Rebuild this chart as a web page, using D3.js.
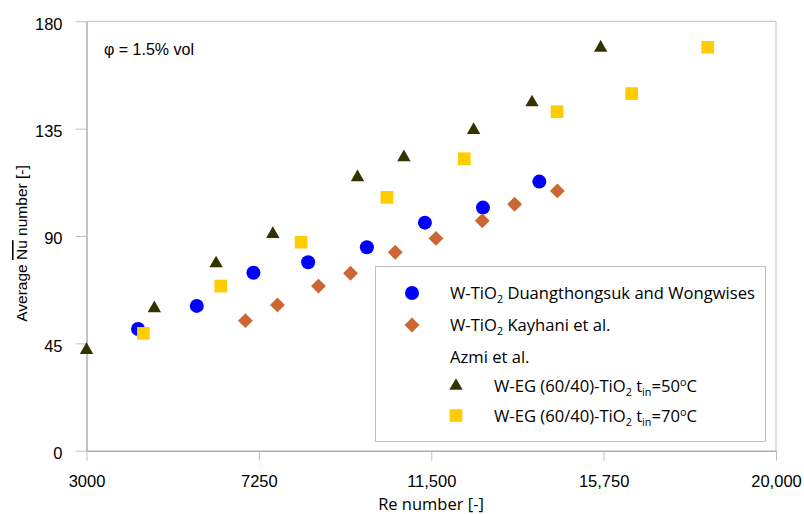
<!DOCTYPE html>
<html><head><meta charset="utf-8">
<script src="https://cdn.jsdelivr.net/npm/d3@7"></script>
<style>
body{margin:0;background:#fff;}
svg{display:block;}
</style></head>
<body>
<svg id="chart" width="804" height="514"></svg>
<script>
// ---- data ----
const xTicks = [3000, 7250, 11500, 15750, 20000];
const yTicks = [0, 45, 90, 135, 180];

const duangRe = [4271, 5719, 7116, 8465, 9913, 11344, 12775, 14165];
const duangNu = [51.0, 60.7, 74.6, 79.0, 85.3, 95.6, 101.9, 112.8];

const kayRe = [6918, 7708, 8719, 9509, 10612, 11616, 12758, 13555, 14609];
const kayNu = [54.5, 61.1, 69.0, 74.4, 83.2, 89.0, 96.4, 103.3, 108.9];

const azmi50Re = [3000, 4673, 6195, 7594, 9682, 10826, 12544, 13984, 15677];
const azmi50Nu = [42.2, 59.7, 78.5, 90.8, 114.6, 123.0, 134.4, 146.0, 168.9];

const azmi70Re = [4402, 6311, 8292, 10407, 12314, 14601, 16442, 18317];
const azmi70Nu = [49.2, 69.0, 87.4, 106.2, 122.4, 142.1, 149.7, 169.1];

// ---- layout ----
const svg = d3.select('#chart');
const x = d3.scaleLinear().domain([3000, 20000]).range([86.5, 776]);
const y = d3.scaleLinear().domain([0, 180]).range([450.7, 21.3]);
const axisColor = '#868686';
const frameColor = '#bfbfbf';

// frame (top and right)
svg.append('line').attr('x1', x(3000)).attr('x2', x(20000)).attr('y1', y(180)).attr('y2', y(180))
  .attr('stroke', frameColor).attr('stroke-width', 1);
svg.append('line').attr('x1', x(20000)).attr('x2', x(20000)).attr('y1', y(180)).attr('y2', y(0))
  .attr('stroke', frameColor).attr('stroke-width', 1);

const fmtX = d => d >= 10000 ? d3.format(',')(d) : String(d);

const gx = svg.append('g').attr('transform', `translate(0,${y(0)})`)
  .call(d3.axisBottom(x).tickValues(xTicks).tickFormat(fmtX).tickSize(10).tickSizeOuter(0).tickPadding(15));
const gy = svg.append('g').attr('transform', `translate(${x(3000)},0)`)
  .call(d3.axisLeft(y).tickValues(yTicks).tickSize(11).tickSizeOuter(0).tickPadding(13));
[gx, gy].forEach(g => {
  g.select('.domain').attr('stroke', axisColor);
  g.selectAll('.tick line').attr('stroke', frameColor);
  g.selectAll('.tick text').attr('font-family', 'Liberation Sans, Arial, sans-serif')
    .attr('font-size', 16.5).attr('fill', '#000');
});
gy.selectAll('.tick text').attr('dy', '0.47em');

// axis titles
svg.append('text').attr('x', 431).attr('y', 510).attr('text-anchor', 'middle')
  .attr('font-family', 'Open Sans, sans-serif').attr('font-size', 16.5).attr('fill', '#000')
  .text('Re number [-]');

const yt = svg.append('text').attr('transform', 'translate(27,243.5) rotate(-90)')
  .attr('text-anchor', 'middle')
  .attr('font-family', 'Liberation Sans, Arial, sans-serif').attr('font-size', 15.5).attr('fill', '#000');
yt.append('tspan').text('Average ');
yt.append('tspan').style('text-decoration', 'overline').text('Nu');
yt.append('tspan').text(' number [-]');

// annotation
svg.append('text').attr('x', 104).attr('y', 55)
  .attr('font-family', 'Liberation Sans, Arial, sans-serif').attr('font-size', 16).attr('fill', '#000')
  .text('φ = 1.5% vol');

// ---- markers ----
const cData = duangRe.map((r, i) => ({ r, v: duangNu[i] }));
const dData = kayRe.map((r, i) => ({ r, v: kayNu[i] }));
const tData = azmi50Re.map((r, i) => ({ r, v: azmi50Nu[i] }));
const sData = azmi70Re.map((r, i) => ({ r, v: azmi70Nu[i] }));

const colCircle = '#0000ff', colDiamond = '#cc6633', colTri = '#333300', colSq = '#ffcc00';
const symCircle = d3.symbol().type(d3.symbolCircle).size(Math.PI * 7 * 7);
const symDiamond = d3.symbol().type(d3.symbolSquare).size(10.5 * 10.5);
const symTri = d3.symbol().type(d3.symbolTriangle).size(13.4 * 13.4 * Math.sqrt(3) / 4);
const symSq = d3.symbol().type(d3.symbolSquare).size(12.7 * 12.7);

function drawSeries(data, sym, col, rot) {
  svg.append('g').selectAll('path').data(data).join('path')
    .attr('d', sym)
    .attr('transform', d => `translate(${x(d.r)},${y(d.v)}) rotate(${rot || 0})`)
    .attr('fill', col);
}
drawSeries(cData, symCircle, colCircle);
drawSeries(dData, symDiamond, colDiamond, 45);
drawSeries(tData, symTri, colTri);
drawSeries(sData, symSq, colSq);

// ---- legend ----
const lg = svg.append('g');
lg.append('rect').attr('x', 375.5).attr('y', 266.5).attr('width', 390).attr('height', 175)
  .attr('fill', '#fff').attr('stroke', frameColor).attr('stroke-width', 1);

const lf = 'Open Sans, sans-serif';
const lfs = 16.6;
function legText(xp, yp, parts) {
  const t = lg.append('text').attr('x', xp).attr('y', yp).attr('font-family', lf)
    .attr('font-size', lfs).attr('fill', '#000');
  parts.forEach(p => {
    const ts = t.append('tspan').text(p.t);
    if (p.sub) ts.attr('font-size', lfs * 0.65).attr('dy', 4);
    if (p.sup) ts.attr('font-size', lfs * 0.65).attr('dy', -6);
    if (p.back) ts.attr('dy', p.back);
  });
}
lg.append('path').attr('d', symCircle).attr('transform', 'translate(412,293)').attr('fill', colCircle);
legText(450, 299, [{ t: 'W-TiO' }, { t: '2', sub: true }, { t: ' Duangthongsuk and Wongwises', back: -4 }]);
lg.append('path').attr('d', symDiamond).attr('transform', 'translate(412,325) rotate(45)').attr('fill', colDiamond);
legText(450, 331, [{ t: 'W-TiO' }, { t: '2', sub: true }, { t: ' Kayhani et al.', back: -4 }]);
legText(450, 363, [{ t: 'Azmi et al.' }]);
lg.append('path').attr('d', symTri).attr('transform', 'translate(456,386)').attr('fill', colTri);
legText(494, 392, [{ t: 'W-EG (60/40)-TiO' }, { t: '2', sub: true }, { t: ' t', back: -4 }, { t: 'in', sub: true }, { t: '=50', back: -4 }, { t: 'o', sup: true }, { t: 'C', back: 6 }]);
lg.append('path').attr('d', symSq).attr('transform', 'translate(456,415.5)').attr('fill', colSq);
legText(494, 422, [{ t: 'W-EG (60/40)-TiO' }, { t: '2', sub: true }, { t: ' t', back: -4 }, { t: 'in', sub: true }, { t: '=70', back: -4 }, { t: 'o', sup: true }, { t: 'C', back: 6 }]);
</script>
</body></html>
